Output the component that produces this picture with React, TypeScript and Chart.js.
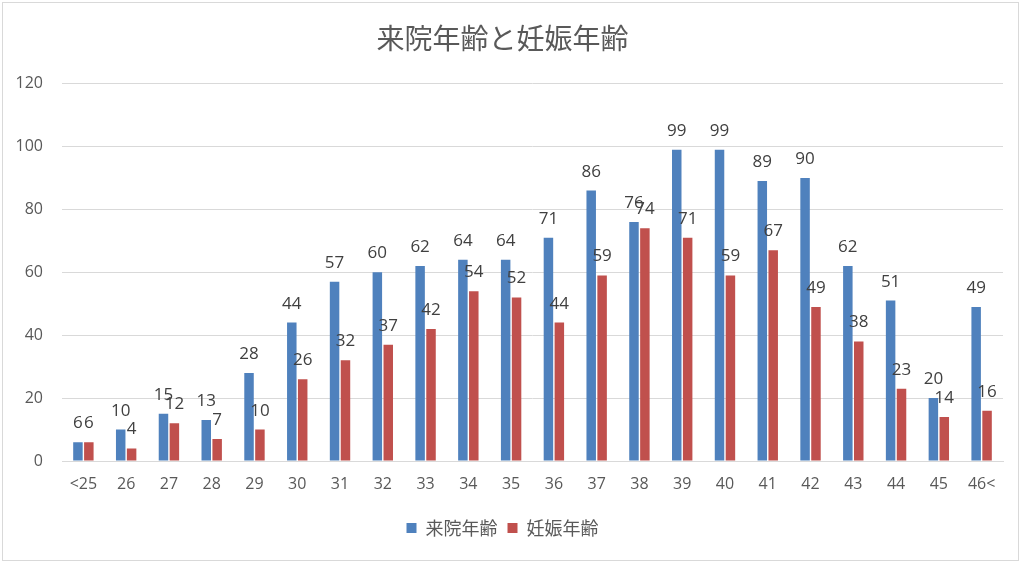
import React, { useEffect, useRef } from "react";
import { Chart, registerables } from "chart.js";

Chart.register(...registerables);

const categories = ["<25", "26", "27", "28", "29", "30", "31", "32", "33", "34", "35", "36", "37", "38", "39", "40", "41", "42", "43", "44", "45", "46<"];
const visitAge = [6, 10, 15, 13, 28, 44, 57, 60, 62, 64, 64, 71, 86, 76, 99, 99, 89, 90, 62, 51, 20, 49];
const pregnancyAge = [6, 4, 12, 7, 10, 26, 32, 37, 42, 54, 52, 44, 59, 74, 71, 59, 67, 49, 38, 23, 14, 16];
const seriesNames = ["来院年齢", "妊娠年齢"];
const chartTitle = "来院年齢と妊娠年齢";
const yTicks = { min: 0, max: 120, step: 20 };

const NUM_FONT = "'Open Sans', Lato, sans-serif";
const CJK_FONT = "'Noto Sans CJK JP', 'Noto Sans', sans-serif";

const labelPlugin = {
  id: "valueLabels",
  afterDatasetsDraw(chart: any) {
    const ctx = chart.ctx;
    ctx.save();
    ctx.font = `17px ${NUM_FONT}`;
    ctx.fillStyle = "#404040";
    ctx.textAlign = "center";
    ctx.textBaseline = "alphabetic";
    chart.data.datasets.forEach((ds: any, i: number) => {
      const meta = chart.getDatasetMeta(i);
      meta.data.forEach((bar: any, j: number) => {
        ctx.fillText(String(ds.data[j]), bar.x, bar.y - 14);
      });
    });
    ctx.restore();
  },
};

const borderPlugin = {
  id: "outerBorder",
  afterDraw(chart: any) {
    const ctx = chart.ctx;
    ctx.save();
    ctx.strokeStyle = "#D9D9D9";
    ctx.lineWidth = 1;
    ctx.strokeRect(2.5, 2.5, 1016, 558);
    ctx.restore();
  },
};

export default function App() {
  const ref = useRef<HTMLCanvasElement>(null);
  useEffect(() => {
    if (!ref.current) return;
    const chart = new Chart(ref.current, {
      type: "bar",
      data: {
        labels: categories,
        datasets: [
          { label: seriesNames[0], data: visitAge, backgroundColor: "#4F81BD", categoryPercentage: 0.51, barPercentage: 0.87 },
          { label: seriesNames[1], data: pregnancyAge, backgroundColor: "#C0504D", categoryPercentage: 0.51, barPercentage: 0.87 },
        ],
      },
      options: {
        responsive: false,
        animation: false,
        layout: { padding: { left: 2, right: 21, top: 0, bottom: 16 } },
        plugins: {
          title: {
            display: true,
            text: chartTitle,
            color: "#595959",
            font: { family: CJK_FONT, size: 28, weight: "normal" },
            padding: { top: 22, bottom: 28 },
          },
          legend: {
            position: "bottom",
            labels: {
              color: "#595959",
              font: { family: CJK_FONT, size: 18 },
              boxWidth: 10,
              boxHeight: 10,
              padding: 10,
            },
          },
          tooltip: { enabled: false },
        },
        scales: {
          x: {
            grid: { display: false, drawTicks: false },
            border: { display: true, color: "#D9D9D9" },
            ticks: { color: "#595959", font: { family: NUM_FONT, size: 16 }, padding: 14, maxRotation: 0, autoSkip: false },
            afterFit: (s: any) => { s.height = 48; },
          },
          y: {
            min: yTicks.min,
            max: yTicks.max,
            grid: { color: "#D9D9D9", drawTicks: false },
            border: { display: false },
            ticks: { stepSize: yTicks.step, color: "#595959", font: { family: NUM_FONT, size: 16 }, padding: 19 },
            afterFit: (s: any) => { s.width = 60; },
          },
        },
      },
      plugins: [labelPlugin, borderPlugin],
    } as any);
    return () => chart.destroy();
  }, []);
  return (
    <div style={{ position: "absolute", left: 0, top: 0, width: 1024, height: 563, background: "#fff" }}>
      <canvas ref={ref} width={1024} height={563} />
    </div>
  );
}
